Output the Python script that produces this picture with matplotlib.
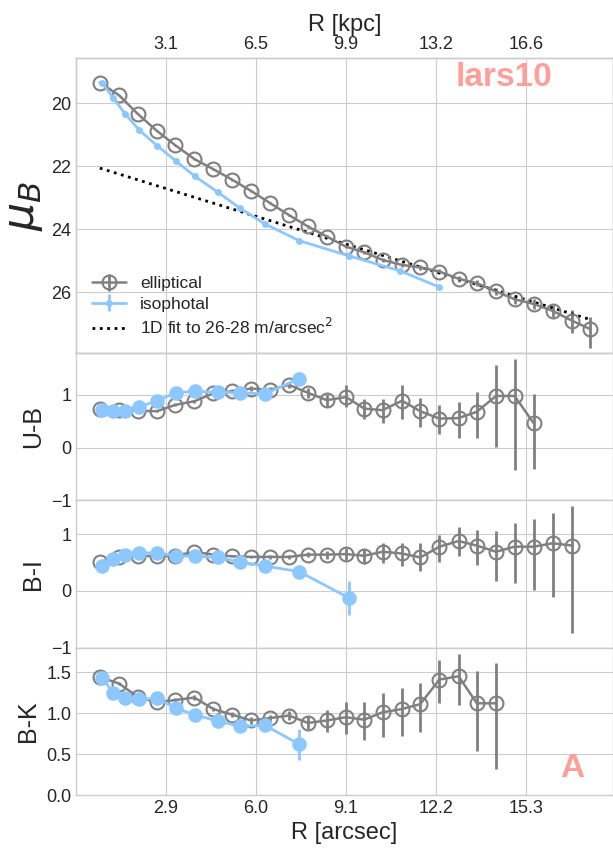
import numpy as np
import matplotlib
matplotlib.use('Agg')
import matplotlib.pyplot as plt

# Radii [arcsec] of the elliptical and isophotal profiles
r_ell = [0.62, 1.29, 1.92, 2.58, 3.22, 3.88, 4.53, 5.19, 5.83, 6.49, 7.14, 7.79, 8.44,
         9.10, 9.73, 10.36, 11.03, 11.66, 12.32, 12.98, 13.61, 14.27, 14.91, 15.57,
         16.22, 16.89, 17.52]
r_iso = [0.70, 1.08, 1.49, 1.97, 2.60, 3.24, 3.90, 4.70, 5.45, 6.31, 7.49, 9.19, 10.97, 12.31]

# Surface brightness mu_B
mu_ell = [19.34, 19.75, 20.33, 20.87, 21.33, 21.77, 22.09, 22.43, 22.78, 23.17, 23.55, 23.91,
          24.23, 24.55, 24.73, 24.97, 25.13, 25.21, 25.34, 25.57, 25.71, 25.97, 26.22, 26.37,
          26.59, 26.90, 27.17]
mu_ell_lo = [0.02, 0.02, 0.02, 0.02, 0.02, 0.02, 0.02, 0.02, 0.03, 0.03, 0.03, 0.04, 0.04,
             0.05, 0.05, 0.06, 0.06, 0.07, 0.08, 0.09, 0.10, 0.12, 0.14, 0.15, 0.20, 0.34, 0.40]
mu_ell_hi = [0.02, 0.02, 0.02, 0.02, 0.02, 0.02, 0.02, 0.02, 0.03, 0.03, 0.03, 0.04, 0.04,
             0.05, 0.05, 0.06, 0.06, 0.07, 0.08, 0.09, 0.10, 0.12, 0.14, 0.15, 0.20, 0.40, 0.60]
mu_iso = [19.34, 19.83, 20.33, 20.84, 21.35, 21.83, 22.32, 22.83, 23.33, 23.83, 24.36,
          24.84, 25.32, 25.83]
mu_iso_err = [0.01, 0.01, 0.01, 0.01, 0.01, 0.01, 0.01, 0.01, 0.01, 0.02, 0.02, 0.02, 0.03, 0.03]

# 1D exponential fit (mu = mu0 + slope * R)
fit_mu0 = 21.88
fit_slope = 0.2845

# U-B
ub_ell = [0.74, 0.71, 0.70, 0.69, 0.81, 0.88, 1.03, 1.07, 1.12, 1.10, 1.19, 1.04, 0.90,
          0.96, 0.74, 0.71, 0.89, 0.69, 0.55, 0.56, 0.68, 0.98, 0.98, 0.46]
ub_ell_lo = [0.02, 0.02, 0.02, 0.02, 0.03, 0.03, 0.04, 0.04, 0.05, 0.05, 0.06, 0.10, 0.13,
             0.19, 0.19, 0.24, 0.34, 0.30, 0.30, 0.37, 0.50, 0.97, 1.40, 0.86]
ub_ell_hi = [0.02, 0.02, 0.02, 0.02, 0.03, 0.03, 0.04, 0.04, 0.05, 0.05, 0.06, 0.10, 0.12,
             0.22, 0.19, 0.22, 0.29, 0.25, 0.25, 0.30, 0.37, 0.58, 0.70, 0.55]
ub_iso = [0.72, 0.69, 0.70, 0.77, 0.89, 1.04, 1.07, 1.05, 1.04, 1.02, 1.31]
ub_iso_err = [0.01, 0.01, 0.01, 0.01, 0.01, 0.02, 0.02, 0.02, 0.03, 0.04, 0.12]

# B-I
bi_ell = [0.51, 0.60, 0.61, 0.62, 0.62, 0.69, 0.64, 0.61, 0.60, 0.60, 0.60, 0.64, 0.64,
          0.65, 0.62, 0.69, 0.66, 0.59, 0.78, 0.88, 0.80, 0.69, 0.78, 0.78, 0.84, 0.80]
bi_ell_lo = [0.01, 0.01, 0.01, 0.01, 0.01, 0.02, 0.02, 0.02, 0.02, 0.03, 0.04, 0.05, 0.07,
             0.10, 0.15, 0.19, 0.22, 0.24, 0.27, 0.27, 0.35, 0.51, 0.64, 0.77, 0.94, 1.55]
bi_ell_hi = [0.01, 0.01, 0.01, 0.01, 0.01, 0.02, 0.02, 0.02, 0.02, 0.03, 0.04, 0.05, 0.07,
             0.10, 0.12, 0.16, 0.19, 0.25, 0.21, 0.24, 0.28, 0.37, 0.41, 0.49, 0.53, 0.69]
bi_iso = [0.44, 0.56, 0.64, 0.67, 0.67, 0.62, 0.61, 0.59, 0.51, 0.44, 0.34, -0.12]
bi_iso_err = [0.01, 0.01, 0.01, 0.01, 0.01, 0.01, 0.02, 0.02, 0.02, 0.03, 0.05, 0.30]

# B-K
bk_ell = [1.44, 1.36, 1.20, 1.13, 1.16, 1.19, 1.05, 0.98, 0.91, 0.94, 0.97, 0.88, 0.91,
          0.95, 0.92, 1.01, 1.05, 1.11, 1.41, 1.45, 1.12, 1.12]
bk_ell_lo = [0.02, 0.02, 0.02, 0.02, 0.02, 0.03, 0.03, 0.03, 0.04, 0.04, 0.05, 0.08, 0.14,
             0.20, 0.25, 0.30, 0.33, 0.34, 0.29, 0.35, 0.58, 0.80]
bk_ell_hi = [0.02, 0.02, 0.02, 0.02, 0.02, 0.03, 0.03, 0.03, 0.04, 0.04, 0.05, 0.08, 0.13,
             0.18, 0.22, 0.23, 0.26, 0.26, 0.24, 0.27, 0.39, 0.49]
bk_iso = [1.43, 1.25, 1.19, 1.17, 1.18, 1.06, 0.98, 0.90, 0.84, 0.85, 0.62]
bk_iso_err = [0.01, 0.01, 0.01, 0.01, 0.01, 0.02, 0.02, 0.02, 0.03, 0.05, 0.19]

# axis ticks
r_ticks = [2.9, 6.0, 9.1, 12.2, 15.3]
kpc_labels = ['3.1', '6.5', '9.9', '13.2', '16.6']

ELL_COLOR = 'grey'
ISO_COLOR = '#8cc8ff'
TAG_COLOR = '#ff9f9a'

plt.style.use('seaborn-v0_8-whitegrid')
plt.rcParams['font.family'] = ['Liberation Sans', 'DejaVu Sans']
plt.rcParams['xtick.labelsize'] = 13
plt.rcParams['ytick.labelsize'] = 13

fig, axes = plt.subplots(4, 1, figsize=(6.13, 8.59), dpi=100, sharex=True,
                         gridspec_kw={'height_ratios': [2, 1, 1, 1], 'hspace': 0})
fig.subplots_adjust(left=0.124, right=1.0, top=0.9325, bottom=0.0745)

ell_kw = dict(fmt='-o', color=ELL_COLOR, mfc='none', ms=10, mew=1.5, lw=1.8, elinewidth=2)

# surface brightness profile
ax = axes[0]
h_ell = ax.errorbar(r_ell, mu_ell, yerr=[mu_ell_lo, mu_ell_hi], **ell_kw)
h_iso = ax.errorbar(r_iso, mu_iso, yerr=mu_iso_err, fmt='-o', color=ISO_COLOR, ms=4, lw=2,
                    elinewidth=2)
r_fit = np.array([r_ell[0], r_ell[-1]])
h_fit, = ax.plot(r_fit, fit_mu0 + fit_slope * r_fit, ':', color='black', lw=2)
ax.set_ylim(27.92, 18.56)
ax.set_yticks([20, 22, 24, 26])
ax.set_ylabel(r'$\mu_B$', fontsize=32)
ax.legend([h_ell, h_iso, h_fit],
          ['elliptical', 'isophotal', '1D fit to 26-28 m/arcsec$^2$'],
          loc='lower left', fontsize=12.5, labelspacing=0.3)
ax.text(0.797, 0.935, 'lars10', transform=ax.transAxes, ha='center', va='center',
        fontsize=24, fontweight='bold', color=TAG_COLOR)

# colour profiles
colours = [
    ('U-B', ub_ell, ub_ell_lo, ub_ell_hi, ub_iso, ub_iso_err, (-1.0, 1.8), [-1, 0, 1]),
    ('B-I', bi_ell, bi_ell_lo, bi_ell_hi, bi_iso, bi_iso_err, (-1.0, 1.6), [-1, 0, 1]),
    ('B-K', bk_ell, bk_ell_lo, bk_ell_hi, bk_iso, bk_iso_err, (0.0, 1.8), [0.0, 0.5, 1.0, 1.5]),
]
for ax, (name, c_ell, c_lo, c_hi, c_iso, c_iso_err, ylim, yticks) in zip(axes[1:], colours):
    n_e = len(c_ell)
    n_i = len(c_iso)
    ax.errorbar(r_ell[:n_e], c_ell, yerr=[c_lo, c_hi], **ell_kw)
    ax.errorbar(r_iso[:n_i], c_iso, yerr=c_iso_err, fmt='-o', color=ISO_COLOR, ms=9.5,
                lw=2, elinewidth=2)
    ax.set_ylim(*ylim)
    ax.set_yticks(yticks)
    ax.set_ylabel(name, fontsize=18)

axes[3].yaxis.set_major_formatter(matplotlib.ticker.FormatStrFormatter('%.1f'))
axes[3].text(0.924, 0.183, 'A', transform=axes[3].transAxes, ha='center', va='center',
             fontsize=24, fontweight='bold', color=TAG_COLOR)

axes[3].set_xlim(-0.2, 18.3)
axes[3].set_xticks(r_ticks)
axes[3].set_xticklabels([f'{t:.1f}' for t in r_ticks])
axes[3].set_xlabel('R [arcsec]', fontsize=17)

# top axis in kpc
ax_top = axes[0].twiny()
ax_top.set_xlim(axes[3].get_xlim())
ax_top.set_xticks(r_ticks)
ax_top.set_xticklabels(kpc_labels)
ax_top.set_xlabel('R [kpc]', fontsize=17)
ax_top.grid(False)

fig.savefig('out.png', dpi=100)
